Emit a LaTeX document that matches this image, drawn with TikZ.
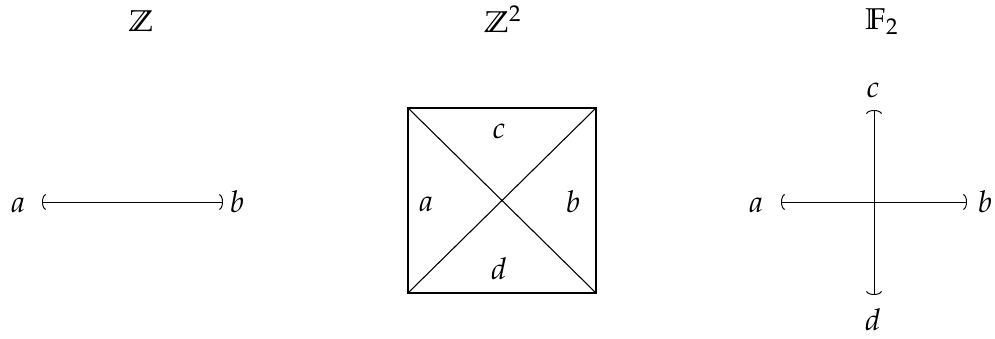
\documentclass[tikz,border=0pt]{standalone}
\usepackage{amssymb}
\usepackage{mathpazo}
\usetikzlibrary{arrows.meta}
\begin{document}
\begin{tikzpicture}[x={0.0146cm},y={-0.0146cm},
  every node/.style={font=\fontsize{12.5}{15}\selectfont},
  lbl/.style={inner sep=1pt},
  ttl/.style={inner sep=0pt},
  gen/.style={draw, line width=0.4pt, {Arc Barb[length=1.6pt,width=6.5pt]}-{Arc Barb[length=1.6pt,width=6.5pt]}},
  edge/.style={draw, line width=0.45pt}]
\useasboundingbox (0,0) rectangle (995,339);
% titles
\node[ttl] (t1) at (141,21) {$\mathbb{Z}$};
\node[ttl] (t2) at (503,19) {$\mathbb{Z}^2$};
\node[ttl] (t3) at (882,22) {$\mathbb{F}_2$};
% Z
\node[lbl] (za) at (18,205) {$a$};
\node[lbl] (zb) at (237,202) {$b$};
\coordinate (zs) at (42,202);
\coordinate (ze) at (223,202);
\draw[gen] (zs) -- (ze);
% Z^2
\coordinate (p1) at (408,108);
\coordinate (p2) at (596,108);
\coordinate (p3) at (596,293);
\coordinate (p4) at (408,293);
\draw[edge] (p1) -- (p2) -- (p3) -- (p4) -- cycle;
\draw[edge] (p1) -- (p3);
\draw[edge] (p2) -- (p4);
\node[lbl] (sc) at (499,131) {$c$};
\node[lbl] (sa) at (426,204) {$a$};
\node[lbl] (sb) at (573,202) {$b$};
\node[lbl] (sd) at (499,269) {$d$};
% F_2
\node[lbl] (fa) at (756,205) {$a$};
\node[lbl] (fb) at (985,202) {$b$};
\node[lbl] (fc) at (873,90) {$c$};
\node[lbl] (fd) at (873,320) {$d$};
\coordinate (fl) at (781,202);
\coordinate (fr) at (967,202);
\coordinate (ft) at (874,110);
\coordinate (fbt) at (874,295);
\draw[gen] (fl) -- (fr);
\draw[gen] (ft) -- (fbt);
\end{tikzpicture}
\end{document}
